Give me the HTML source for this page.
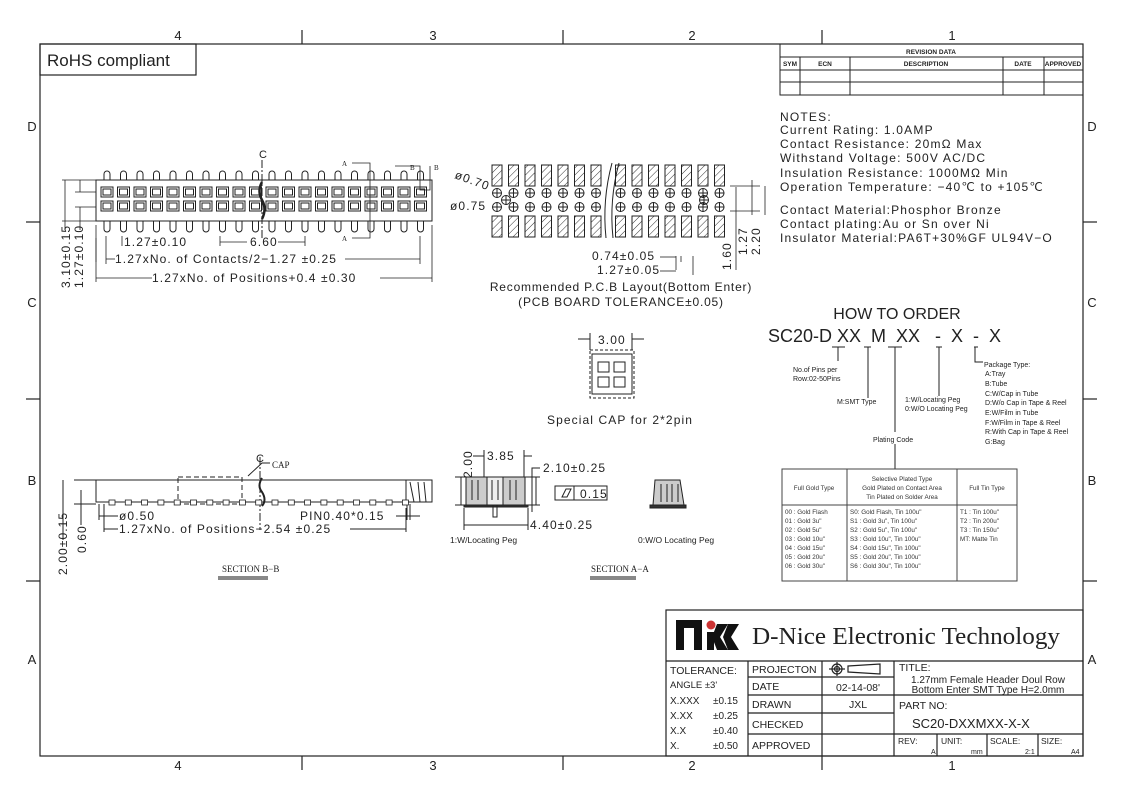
<!DOCTYPE html>
<html><head><meta charset="utf-8"><style>
html,body{margin:0;padding:0;background:#fff;}
svg{display:block;font-family:"Liberation Sans",sans-serif;}
.c text{letter-spacing:1.1px;}
.n text{letter-spacing:1.2px;}
</style></head><body>
<svg id="s" width="1123" height="794" viewBox="0 0 1123 794" xmlns="http://www.w3.org/2000/svg">
<rect width="1123" height="794" fill="#fff"/>
<g stroke="#222" fill="none" stroke-width="1.2">
<rect x="40" y="44" width="1043" height="712"/>
<line x1="302" y1="30" x2="302" y2="44"/><line x1="563" y1="30" x2="563" y2="44"/><line x1="822" y1="30" x2="822" y2="44"/>
<line x1="302" y1="756" x2="302" y2="770"/><line x1="563" y1="756" x2="563" y2="770"/><line x1="822" y1="756" x2="822" y2="770"/>
<line x1="26" y1="222" x2="40" y2="222"/><line x1="26" y1="399" x2="40" y2="399"/><line x1="26" y1="581" x2="40" y2="581"/>
<line x1="1083" y1="222" x2="1097" y2="222"/><line x1="1083" y1="399" x2="1097" y2="399"/><line x1="1083" y1="581" x2="1097" y2="581"/>
<rect x="40" y="44" width="156" height="31"/>
</g>
<g font-size="13" fill="#222" text-anchor="middle">
<text x="178" y="40">4</text><text x="433" y="40">3</text><text x="692" y="40">2</text><text x="952" y="40">1</text>
<text x="178" y="770">4</text><text x="433" y="770">3</text><text x="692" y="770">2</text><text x="952" y="770">1</text>
<text x="32" y="131">D</text><text x="32" y="307">C</text><text x="32" y="485">B</text><text x="32" y="664">A</text>
<text x="1092" y="131">D</text><text x="1092" y="307">C</text><text x="1092" y="485">B</text><text x="1092" y="664">A</text>
</g>
<text x="47" y="66" font-size="17" fill="#222">RoHS compliant</text>

<g stroke="#222" fill="none" stroke-width="1">
<rect x="780" y="44" width="303" height="51"/>
<line x1="780" y1="57" x2="1083" y2="57"/><line x1="780" y1="70" x2="1083" y2="70"/><line x1="780" y1="82" x2="1083" y2="82"/>
<line x1="800" y1="57" x2="800" y2="95"/><line x1="850" y1="57" x2="850" y2="95"/><line x1="1003" y1="57" x2="1003" y2="95"/><line x1="1044" y1="57" x2="1044" y2="95"/>
</g>
<g font-size="6.5" fill="#222" text-anchor="middle" font-weight="bold">
<text x="931" y="54">REVISION DATA</text>
<text x="790" y="66">SYM</text><text x="825" y="66">ECN</text><text x="926" y="66">DESCRIPTION</text><text x="1023" y="66">DATE</text><text x="1063" y="66">APPROVED</text>
</g>
<g font-size="12" fill="#222" class="n">
<text x="780" y="121">NOTES:</text>
<text x="780" y="134">Current Rating: 1.0AMP</text>
<text x="780" y="148">Contact Resistance: 20mΩ Max</text>
<text x="780" y="162">Withstand Voltage: 500V AC/DC</text>
<text x="780" y="177">Insulation Resistance: 1000MΩ Min</text>
<text x="780" y="191">Operation Temperature: −40℃ to +105℃</text>
<text x="780" y="214">Contact Material:Phosphor Bronze</text>
<text x="780" y="228">Contact plating:Au or Sn over Ni</text>
<text x="780" y="242">Insulator Material:PA6T+30%GF UL94V−O</text>
</g>

<g id="tv" stroke="#222" fill="none" stroke-width="1"></g>
<g font-size="12" fill="#222" class="c">
<text x="124" y="246">1.27±0.10</text>
<text x="250" y="246">6.60</text>
<text x="115" y="263">1.27xNo. of Contacts/2−1.27 ±0.25</text>
<text x="152" y="282">1.27xNo. of Positions+0.4 ±0.30</text>
<text transform="translate(70,288) rotate(-90)">3.10±0.15</text>
<text transform="translate(83,288) rotate(-90)">1.27±0.10</text>
<text x="259" y="158" font-size="11">C</text>
</g>
<g font-size="7" fill="#222" font-family="Liberation Serif">
<text x="342" y="166">A</text>
<text x="342" y="241">A</text>
<text x="410" y="170">B</text>
<text x="434" y="170">B</text>
</g>
<g stroke="#222" stroke-width="0.8" fill="none">
<line x1="96" y1="238" x2="96" y2="262"/><line x1="106" y1="236" x2="106" y2="264"/><line x1="420" y1="236" x2="420" y2="264"/><line x1="432" y1="225" x2="432" y2="282"/><line x1="96" y1="225" x2="96" y2="282"/>
<line x1="106" y1="259" x2="115" y2="259"/><line x1="345" y1="259" x2="420" y2="259"/>
<line x1="96" y1="278" x2="152" y2="278"/><line x1="380" y1="278" x2="432" y2="278"/>
<line x1="122" y1="236" x2="122" y2="246"/><line x1="220" y1="236" x2="220" y2="246"/><line x1="305" y1="236" x2="305" y2="246"/>
<line x1="220" y1="242" x2="247" y2="242"/><line x1="278" y1="242" x2="305" y2="242"/>
<line x1="62" y1="180" x2="96" y2="180"/><line x1="62" y1="221" x2="96" y2="221"/><line x1="65" y1="180" x2="65" y2="230"/>
<line x1="75" y1="192" x2="96" y2="192"/><line x1="75" y1="207" x2="96" y2="207"/><line x1="80" y1="180" x2="80" y2="192"/><line x1="80" y1="207" x2="80" y2="230"/>
<path d="M352 163 H370 V238 H352"/><path d="M395 166 H420 V190 H430 V166"/>
</g>

<g id="pcb" stroke="#222" fill="none" stroke-width="1"></g>
<g font-size="12" fill="#222" class="c">
<text transform="translate(454,178) rotate(20)">ø0.70</text>
<text x="450" y="210">ø0.75</text>
<text x="592" y="260">0.74±0.05</text>
<text x="597" y="274">1.27±0.05</text>
<text transform="translate(731,270) rotate(-90)">1.60</text>
<text transform="translate(747,255) rotate(-90)">1.27</text>
<text transform="translate(760,255) rotate(-90)">2.20</text>
<text x="621" y="291" text-anchor="middle" style="letter-spacing:0.8px">Recommended P.C.B Layout(Bottom Enter)</text>
<text x="621" y="306" text-anchor="middle" style="letter-spacing:0.8px">(PCB BOARD TOLERANCE±0.05)</text>
<text x="620" y="424" text-anchor="middle">Special CAP for 2*2pin</text>
<text x="598" y="344">3.00</text>
</g>
<g stroke="#222" stroke-width="0.8" fill="none">
<line x1="676" y1="256" x2="676" y2="270"/><line x1="681" y1="256" x2="681" y2="262"/><line x1="693" y1="256" x2="693" y2="275"/>
<line x1="660" y1="257" x2="676" y2="257"/><line x1="660" y1="271" x2="676" y2="271"/>
<line x1="730" y1="186" x2="760" y2="186"/><line x1="730" y1="211" x2="760" y2="211"/>
<line x1="736" y1="187" x2="736" y2="270"/><line x1="752" y1="180" x2="752" y2="215"/><line x1="765" y1="186" x2="765" y2="215"/>
</g>

<g stroke="#222" fill="none" stroke-width="1">
<rect x="592" y="354" width="40" height="40"/>
<rect x="590" y="350" width="44" height="48" stroke-dasharray="3 2"/>
<rect x="598" y="362" width="11" height="10"/><rect x="614" y="362" width="11" height="10"/>
<rect x="598" y="377" width="11" height="10"/><rect x="614" y="377" width="11" height="10"/>
<line x1="590" y1="333" x2="590" y2="350"/><line x1="632" y1="333" x2="632" y2="350"/>
<line x1="578" y1="339" x2="590" y2="339"/><line x1="632" y1="339" x2="644" y2="339"/>
</g>

<g stroke="#222" fill="none" stroke-width="1">
<rect x="96" y="480" width="310" height="22"/>
<rect x="178" y="477" width="64" height="27" stroke-dasharray="5 3"/>
<rect x="406" y="480" width="26" height="22"/>
<path d="M410 482 L414 502 M418 482 L420 502 M424 482 L426 502" />
<line x1="74" y1="480" x2="96" y2="480"/><line x1="74" y1="504" x2="96" y2="504"/><line x1="63" y1="480" x2="63" y2="540"/><line x1="81" y1="490" x2="81" y2="525"/>
<line x1="99" y1="504" x2="99" y2="520"/><line x1="104" y1="504" x2="104" y2="520"/>
<line x1="99" y1="516" x2="118" y2="516"/>
<line x1="104" y1="508" x2="104" y2="532"/><line x1="406" y1="508" x2="406" y2="532"/>
<line x1="104" y1="529" x2="118" y2="529"/><line x1="350" y1="529" x2="406" y2="529"/>
<line x1="407" y1="504" x2="407" y2="520"/><line x1="410" y1="504" x2="410" y2="520"/><line x1="396" y1="516" x2="420" y2="516"/>
<line x1="260" y1="457" x2="260" y2="530" stroke-dasharray="8 2 2 2"/>
<path d="M248 476 L262 463 H270"/>
</g>
<g id="bb" stroke="#222" fill="#fff" stroke-width="0.8"></g>
<g font-size="12" fill="#222" class="c">
<text x="119" y="520">ø0.50</text>
<text x="300" y="520">PIN0.40*0.15</text>
<text x="119" y="533">1.27xNo. of Positions−2.54 ±0.25</text>
<text transform="translate(67,575) rotate(-90)">2.00±0.15</text>
<text transform="translate(86,553) rotate(-90)">0.60</text>
<text x="256" y="462" font-size="11">C</text>
</g>
<g font-size="9" fill="#222" font-family="Liberation Serif">
<text x="272" y="468">CAP</text>
<text x="222" y="572">SECTION B−B</text>
<text x="591" y="572">SECTION A−A</text>
</g>
<rect x="218" y="576" width="50" height="4" fill="#888"/>
<rect x="590" y="576" width="46" height="4" fill="#888"/>

<g stroke="#222" fill="none" stroke-width="1">
<path d="M466 477 H487 V505 H466 Z" fill="#ccc"/>
<path d="M503 477 H525 V505 H503 Z" fill="#ccc"/>
<path d="M487 477 H503 V505 H487 Z" fill="#eee"/>
<path d="M472 480 V500 M478 480 V500 M492 480 V500 M498 480 V500 M510 480 V500 M516 480 V500"/>
<rect x="464" y="505" width="64" height="2" fill="#333"/>
<rect x="493" y="505" width="4" height="12"/>
<line x1="455" y1="477" x2="540" y2="477"/><line x1="455" y1="505" x2="540" y2="505"/>
<line x1="461" y1="477" x2="461" y2="505"/><line x1="536" y1="477" x2="536" y2="505"/>
<line x1="484" y1="450" x2="484" y2="477"/><line x1="524" y1="450" x2="524" y2="477"/>
<line x1="473" y1="456" x2="484" y2="456"/><line x1="524" y1="456" x2="532" y2="456"/>
<line x1="464" y1="508" x2="464" y2="530"/><line x1="528" y1="508" x2="528" y2="530"/>
<line x1="464" y1="525" x2="528" y2="525"/>
<path d="M532 512 V468 H540"/>
<rect x="555" y="486" width="52" height="14"/><line x1="574" y1="486" x2="574" y2="500"/>
<path d="M562 497 L566 489 H571 L567 497 Z"/>
<path d="M655 480 H680 L684 505 H653 Z" fill="#ccc"/>
<path d="M661 484 V502 M667 484 V502 M672 484 V502 M678 484 V502"/>
<rect x="650" y="505" width="36" height="3" fill="#333"/>
</g>
<g font-size="12" fill="#222" class="c">
<text x="487" y="460">3.85</text>
<text x="543" y="472">2.10±0.25</text>
<text x="580" y="498">0.15</text>
<text x="530" y="529">4.40±0.25</text>
<text transform="translate(472,478) rotate(-90)">2.00</text>
</g>
<g font-size="8.5" fill="#222">
<text x="450" y="543">1:W/Locating Peg</text>
<text x="638" y="543">0:W/O Locating Peg</text>
</g>

<text x="897" y="319" font-size="16" fill="#222" text-anchor="middle">HOW TO ORDER</text>
<text x="768" y="342" font-size="18" fill="#222" xml:space="preserve">SC20-D XX  M  XX   -  X  -  X</text>
<g stroke="#222" stroke-width="1" fill="none">
<path d="M832 347 H845 M838 347 V361"/><path d="M864 347 H871 M868 347 V398"/><path d="M888 347 H902 M895 347 V432"/><path d="M936 347 H942 M939 347 V396"/><path d="M974 347 H978 M975 347 V362 H983"/>
<line x1="895" y1="444" x2="895" y2="469"/>
</g>
<g font-size="7" fill="#222">
<text x="793" y="372">No.of Pins per</text><text x="793" y="381">Row:02-50Pins</text>
<text x="837" y="404">M:SMT Type</text>
<text x="905" y="402">1:W/Locating Peg</text><text x="905" y="411">0:W/O Locating Peg</text>
<text x="873" y="442">Plating Code</text>
<text x="984" y="367">Package Type:</text>
<text x="985" y="376">A:Tray</text><text x="985" y="386">B:Tube</text><text x="985" y="396">C:W/Cap in Tube</text><text x="985" y="405">D:W/o Cap in Tape &amp; Reel</text><text x="985" y="415">E:W/Film in Tube</text><text x="985" y="425">F:W/Film in Tape &amp; Reel</text><text x="985" y="434">R:With Cap in Tape &amp; Reel</text><text x="985" y="444">G:Bag</text>
</g>
<g stroke="#444" stroke-width="1" fill="none">
<rect x="782" y="469" width="235" height="112"/>
<line x1="782" y1="505" x2="1017" y2="505"/><line x1="847" y1="469" x2="847" y2="581"/><line x1="957" y1="469" x2="957" y2="581"/>
</g>
<g font-size="6.3" fill="#333">
<text x="814" y="490" text-anchor="middle">Full Gold Type</text>
<text x="902" y="481" text-anchor="middle">Selective Plated Type</text>
<text x="902" y="490" text-anchor="middle">Gold Plated on Contact Area</text>
<text x="902" y="499" text-anchor="middle">Tin Plated on Solder Area</text>
<text x="987" y="490" text-anchor="middle">Full Tin Type</text>
<text x="785" y="514">00 : Gold Flash</text><text x="785" y="523">01 : Gold 3u"</text><text x="785" y="532">02 : Gold 5u"</text><text x="785" y="541">03 : Gold 10u"</text><text x="785" y="550">04 : Gold 15u"</text><text x="785" y="559">05 : Gold 20u"</text><text x="785" y="568">06 : Gold 30u"</text>
<text x="850" y="514">S0: Gold Flash, Tin 100u"</text><text x="850" y="523">S1 : Gold 3u",  Tin 100u"</text><text x="850" y="532">S2 : Gold 5u",  Tin 100u"</text><text x="850" y="541">S3 : Gold 10u", Tin 100u"</text><text x="850" y="550">S4 : Gold 15u", Tin 100u"</text><text x="850" y="559">S5 : Gold 20u", Tin 100u"</text><text x="850" y="568">S6 : Gold 30u", Tin 100u"</text>
<text x="960" y="514">T1 : Tin 100u"</text><text x="960" y="523">T2 : Tin 200u"</text><text x="960" y="532">T3 : Tin 150u"</text><text x="960" y="541">MT: Matte Tin</text>
</g>

<g stroke="#222" stroke-width="1.2" fill="none">
<rect x="666" y="610" width="417" height="146"/>
<line x1="666" y1="661" x2="1083" y2="661"/>
<line x1="748" y1="661" x2="748" y2="756"/><line x1="822" y1="661" x2="822" y2="756"/><line x1="894" y1="661" x2="894" y2="756"/>
<line x1="748" y1="677" x2="894" y2="677"/><line x1="748" y1="695" x2="894" y2="695"/><line x1="748" y1="713" x2="894" y2="713"/><line x1="748" y1="734" x2="894" y2="734"/>
<line x1="894" y1="695" x2="1083" y2="695"/><line x1="894" y1="734" x2="1083" y2="734"/>
<line x1="937" y1="734" x2="937" y2="756"/><line x1="987" y1="734" x2="987" y2="756"/><line x1="1038" y1="734" x2="1038" y2="756"/>
<circle cx="837" cy="669" r="5"/><circle cx="837" cy="669" r="2.5"/><line x1="829" y1="669" x2="845" y2="669"/><line x1="837" y1="662" x2="837" y2="676"/>
<path d="M848 666 L880 664 V674 L848 672 Z"/>
</g>
<g fill="#111">
<path d="M676 620 H702 V650 H694 V628 H684 V650 H676 Z"/>
<path d="M707 632 H714 V650 H707 Z"/>
<path d="M717 624 L728 624 L720 637 L728 650 L717 650 L712 637 Z"/>
<path d="M728 624 L739 624 L731 637 L739 650 L728 650 L723 637 Z"/>
<circle cx="711" cy="625" r="4.5" fill="#c33"/>
</g>
<text x="752" y="644" font-size="24" font-family="Liberation Serif" fill="#222" textLength="308" lengthAdjust="spacingAndGlyphs">D-Nice Electronic Technology</text>
<g font-size="10.5" fill="#222">
<text x="670" y="674">TOLERANCE:</text>
<text x="670" y="688" font-size="9.5">ANGLE  ±3'</text>
<text x="670" y="704" font-size="10">X.XXX</text><text x="713" y="704" font-size="10">±0.15</text>
<text x="670" y="719" font-size="10">X.XX</text><text x="713" y="719" font-size="10">±0.25</text>
<text x="670" y="734" font-size="10">X.X</text><text x="713" y="734" font-size="10">±0.40</text>
<text x="670" y="749" font-size="10">X.</text><text x="713" y="749" font-size="10">±0.50</text>
<text x="752" y="673">PROJECTON</text>
<text x="752" y="690">DATE</text>
<text x="752" y="708">DRAWN</text>
<text x="752" y="728">CHECKED</text>
<text x="752" y="749">APPROVED</text>
<text x="858" y="691" text-anchor="middle">02-14-08'</text>
<text x="858" y="708" text-anchor="middle">JXL</text>
<text x="899" y="671">TITLE:</text>
<text x="988" y="683" text-anchor="middle" font-size="10">1.27mm Female Header Doul Row</text>
<text x="988" y="693" text-anchor="middle" font-size="10">Bottom Enter SMT Type H=2.0mm</text>
<text x="899" y="709">PART  NO:</text>
<text x="912" y="728" font-size="13">SC20-DXXMXX-X-X</text>
<text x="898" y="744" font-size="8.5">REV:</text><text x="931" y="754" font-size="7">A</text>
<text x="941" y="744" font-size="8.5">UNIT:</text><text x="971" y="754" font-size="7">mm</text>
<text x="990" y="744" font-size="8.5">SCALE:</text><text x="1025" y="754" font-size="7">2:1</text>
<text x="1041" y="744" font-size="8.5">SIZE:</text><text x="1071" y="754" font-size="7">A4</text>
</g>
</svg>
<script>
var NS="http://www.w3.org/2000/svg";
function el(p,t,a){var e=document.createElementNS(NS,t);for(var k in a)e.setAttribute(k,a[k]);p.appendChild(e);return e;}
var tv=document.getElementById("tv");
el(tv,"rect",{x:96,y:180,width:336,height:41});
for(var i=0;i<20;i++){var x=107+i*16.5;
 el(tv,"path",{d:"M"+(x-3)+" 180 V174 A3 3 0 0 1 "+(x+3)+" 174 V180"});
 el(tv,"path",{d:"M"+(x-3)+" 221 V229 A3 3 0 0 0 "+(x+3)+" 229 V221"});
 el(tv,"rect",{x:x-6,y:187,width:12,height:10});el(tv,"rect",{x:x-4,y:189,width:8,height:6});
 el(tv,"rect",{x:x-6,y:201,width:12,height:10});el(tv,"rect",{x:x-4,y:203,width:8,height:6});
}
el(tv,"path",{d:"M262 182 q-5 9 0 18 q5 9 0 19",stroke:"#222","stroke-width":"2.5"});
el(tv,"line",{x1:262,y1:160,x2:262,y2:240,"stroke-dasharray":"8 2 2 2"});
var pcb=document.getElementById("pcb");
var defs=el(document.getElementById("s"),"defs",{});
var pat=el(defs,"pattern",{id:"h",width:5,height:5,patternUnits:"userSpaceOnUse",patternTransform:"rotate(45)"});
el(pat,"line",{x1:0,y1:0,x2:0,y2:5,stroke:"#333","stroke-width":1});
for(var i=0;i<14;i++){var x=497+i*16.5+(i>6?8:0);
 el(pcb,"rect",{x:x-5,y:165,width:10,height:21,fill:"url(#h)"});
 el(pcb,"rect",{x:x-5,y:216,width:10,height:21,fill:"url(#h)"});
 [193,207].forEach(function(y){el(pcb,"circle",{cx:x,cy:y,r:4.5});el(pcb,"line",{x1:x-5,y1:y,x2:x+5,y2:y});el(pcb,"line",{x1:x,y1:y-5,x2:x,y2:y+5});});
}
[[506,200],[704,200]].forEach(function(p){el(pcb,"circle",{cx:p[0],cy:p[1],r:4.5});el(pcb,"line",{x1:p[0]-5,y1:p[1],x2:p[0]+5,y2:p[1]});el(pcb,"line",{x1:p[0],y1:p[1]-5,x2:p[0],y2:p[1]+5});});
el(pcb,"path",{d:"M612 163 q-10 37 -6 75 M619 163 q-10 37 -6 75"});
var bb=document.getElementById("bb");
for(var i=0;i<19;i++){var x=112+i*16.3;el(bb,"rect",{x:x-3,y:500,width:6,height:5});}
el(bb,"path",{d:"M262 478 q-5 8 0 14 q5 8 0 14",fill:"none","stroke-width":"2"});
</script>
</body></html>
